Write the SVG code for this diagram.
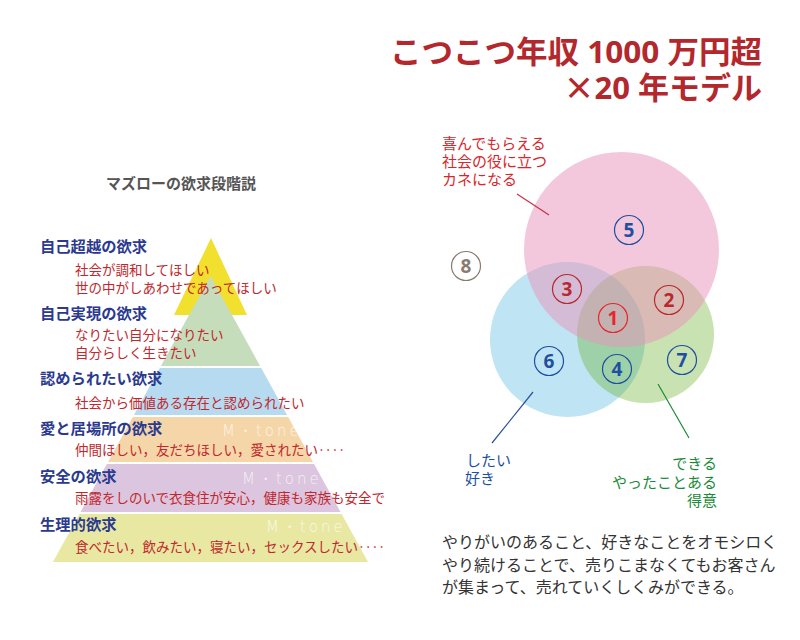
<svg xmlns="http://www.w3.org/2000/svg" width="800" height="640" viewBox="0 0 800 640">
<style>
.jp{font-family:"Noto Sans CJK JP","Noto Sans",sans-serif}
.title{font-family:"Open Sans","Noto Sans CJK JP",sans-serif;font-weight:bold;font-size:31px;fill:#b3282d}
.head{font-family:"Noto Sans CJK JP",sans-serif;font-weight:bold;font-size:15.3px;fill:#2b3a8e}
.sub{font-family:"Noto Sans CJK JP",sans-serif;font-size:13.5px;fill:#c1272d}
.mark{font-family:"DejaVu Sans",sans-serif;font-weight:200;font-size:15px;fill:#fff;fill-opacity:0.75;letter-spacing:3px}
.num{font-family:"Open Sans","Noto Sans",sans-serif;font-weight:bold;font-size:19px;text-anchor:middle}
.ring{fill:none;stroke-width:1.2}
.lbl{font-family:"Noto Sans CJK JP",sans-serif;font-size:15px}
</style>

<g id="title">
<text class="title" text-anchor="end"><tspan x="762" y="63" textLength="372" lengthAdjust="spacingAndGlyphs">こつこつ年収 1000 万円超</tspan><tspan x="762" y="99"><tspan font-family="Noto Sans CJK JP, sans-serif">×</tspan>20 年モデル</tspan></text>
</g>

<g id="pyramid">
<text class="jp" x="181" y="189" text-anchor="middle" font-size="15" font-weight="bold" fill="#555">マズローの欲求段階説</text>
<polygon points="211,238 247,315 174,315" fill="#f1e02e"/>
<polygon points="210.5,276 260.1,366 160.9,366" fill="#c5ddbb"/>
<polygon points="159.8,368 261.2,368 287.1,415 133.9,415" fill="#b6dbf0"/>
<polygon points="132.8,417 288.2,417 313,462 108,462" fill="#f5d6a8"/>
<polygon points="106.9,464 314.1,464 340.5,512 80.5,512" fill="#dcc5de"/>
<polygon points="79.4,514 341.6,514 368.1,562 52.9,562" fill="#e8e8a3"/>
<text class="mark" x="222" y="436">M・tone</text>
<text class="mark" x="242" y="484">M・tone</text>
<text class="mark" x="266" y="532">M・tone</text>
</g>

<g id="level-transcendence">
<text class="head" x="40" y="252">自己超越の欲求</text>
<text class="sub"><tspan x="75" y="275">社会が調和してほしい</tspan><tspan x="75" y="293">世の中がしあわせであってほしい</tspan></text>
</g>
<g id="level-actualization">
<text class="head" x="40" y="319">自己実現の欲求</text>
<text class="sub"><tspan x="75" y="340">なりたい自分になりたい</tspan><tspan x="75" y="358">自分らしく生きたい</tspan></text>
</g>
<g id="level-esteem">
<text class="head" x="40" y="384">認められたい欲求</text>
<text class="sub" x="75" y="408">社会から価値ある存在と認められたい</text>
</g>
<g id="level-belonging">
<text class="head" x="40" y="434">愛と居場所の欲求</text>
<text class="sub" x="75" y="455">仲間ほしい，友だちほしい，愛されたい‥‥</text>
</g>
<g id="level-safety">
<text class="head" x="40" y="482">安全の欲求</text>
<text class="sub" x="75" y="503">雨露をしのいで衣食住が安心，健康も家族も安全で</text>
</g>
<g id="level-physiological">
<text class="head" x="40" y="530">生理的欲求</text>
<text class="sub" x="75" y="552">食べたい，飲みたい，寝たい，セックスしたい‥‥</text>
</g>

<g id="venn">
<circle id="circle-like" cx="567.5" cy="339.5" r="77.5" fill="#bfe4f3"/>
<circle id="circle-good" cx="645.5" cy="334.5" r="68.5" fill="#67af27" fill-opacity="0.36"/>
<circle id="circle-society" cx="621.5" cy="249.5" r="97.5" fill="#e991b9" fill-opacity="0.5"/>
</g>

<g id="connectors">
<line x1="517" y1="194" x2="549" y2="215" stroke="#c8304a" stroke-width="1.2"/>
<line x1="533" y1="392" x2="492" y2="443" stroke="#2a4e9e" stroke-width="1.2"/>
<line x1="658" y1="384" x2="689" y2="438" stroke="#1a8a3a" stroke-width="1.2"/>
</g>

<g id="n1"><circle class="ring" cx="613" cy="318" r="14.5" stroke="#e8262a"/><text class="num" x="613" y="325" fill="#e8262a">1</text></g>
<g id="n2"><circle class="ring" cx="669" cy="300" r="14.5" stroke="#b8282e"/><text class="num" x="669" y="307" fill="#b8282e">2</text></g>
<g id="n3"><circle class="ring" cx="567" cy="289" r="14.5" stroke="#b8282e"/><text class="num" x="567" y="296" fill="#b8282e">3</text></g>
<g id="n4"><circle class="ring" cx="617" cy="369" r="14.5" stroke="#1e4fa0"/><text class="num" x="617" y="376" fill="#1e4fa0">4</text></g>
<g id="n5"><circle class="ring" cx="629" cy="230" r="14.5" stroke="#1e4fa0"/><text class="num" x="629" y="237" fill="#1e4fa0">5</text></g>
<g id="n6"><circle class="ring" cx="549" cy="361" r="14.5" stroke="#1e4fa0"/><text class="num" x="549" y="368" fill="#1e4fa0">6</text></g>
<g id="n7"><circle class="ring" cx="682" cy="360" r="14.5" stroke="#1e4fa0"/><text class="num" x="682" y="367" fill="#1e4fa0">7</text></g>
<g id="n8"><circle class="ring" cx="466" cy="266" r="14.5" stroke="#8a7b70"/><text class="num" x="466" y="273" fill="#8a7b70">8</text></g>

<g id="label-society">
<text class="lbl" fill="#d9262c"><tspan x="442" y="149">喜んでもらえる</tspan><tspan x="442" y="167">社会の役に立つ</tspan><tspan x="442" y="185">カネになる</tspan></text>
</g>
<g id="label-like">
<text class="lbl" fill="#1e4fa0"><tspan x="466" y="466">したい</tspan><tspan x="465" y="484">好き</tspan></text>
</g>
<g id="label-good">
<text class="lbl" fill="#1a8a3a" text-anchor="end"><tspan x="717" y="469">できる</tspan><tspan x="717" y="488">やったことある</tspan><tspan x="717" y="506">得意</tspan></text>
</g>

<g id="summary">
<text class="jp" font-size="16" fill="#333"><tspan x="442" y="548">やりがいのあること、好きなことをオモシロく</tspan><tspan x="442" y="571">やり続けることで、売りこまなくてもお客さん</tspan><tspan x="442" y="593">が集まって、売れていくしくみができる。</tspan></text>
</g>
</svg>
